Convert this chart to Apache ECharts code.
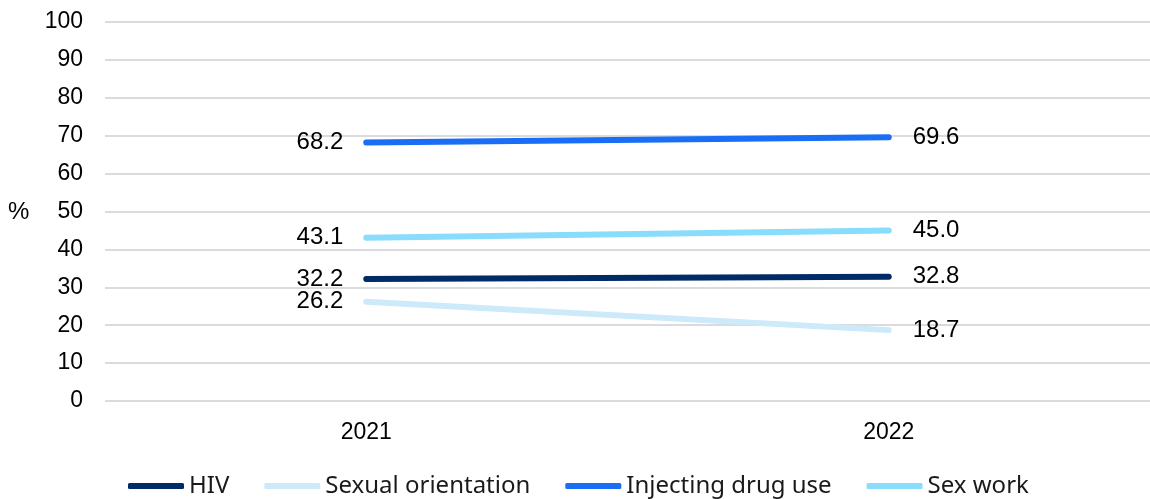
<!DOCTYPE html>
<html>
<head>
<meta charset="utf-8">
<script src="https://cdn.jsdelivr.net/npm/echarts@6/dist/echarts.min.js"></script>
<style>
  html, body { margin: 0; padding: 0; background: #fff; }
  #chart { width: 1150px; height: 499px; }
</style>
</head>
<body>
<div id="chart"></div>
<script>
// Years on the category axis
const years = ['2021', '2022'];
// Percentages per topic
const hiv = [32.2, 32.8];
const sexualOrientation = [26.2, 18.7];
const injectingDrugUse = [68.2, 69.6];
const sexWork = [43.1, 45.0];
// Y-axis ticks
const yMin = 0, yMax = 100, yStep = 10;

const seriesDefs = [
  { name: 'HIV', data: hiv, color: '#002b66' },
  { name: 'Sexual orientation', data: sexualOrientation, color: '#cdeafb' },
  { name: 'Injecting drug use', data: injectingDrugUse, color: '#1a6ef5' },
  { name: 'Sex work', data: sexWork, color: '#8adcfc' }
];

const baseFont = 'Liberation Sans, Arial, sans-serif';
const legendFont = 'Noto Sans, Open Sans, sans-serif';

const chart = echarts.init(document.getElementById('chart'), null, { renderer: 'canvas' });
chart.setOption({
  animation: false,
  backgroundColor: '#ffffff',
  grid: { left: 105, right: 0, top: 22, bottom: 98, containLabel: false },
  graphic: [{
    type: 'text', left: 8, top: 200,
    style: { text: '%', font: '24px ' + baseFont, fill: '#000' }
  }],
  legend: {
    top: 469,
    left: 123,
    itemWidth: 56,
    itemHeight: 6,
    itemGap: 35,
    icon: 'roundRect',
    textStyle: { fontFamily: legendFont, fontSize: 24, color: '#1a1a1a' },
    data: seriesDefs.map(s => s.name)
  },
  xAxis: {
    type: 'category',
    data: years,
    boundaryGap: true,
    axisLine: { show: false },
    axisTick: { show: false },
    axisLabel: { fontFamily: baseFont, fontSize: 23, color: '#000', margin: 20 }
  },
  yAxis: {
    type: 'value',
    min: yMin, max: yMax, interval: yStep,
    axisLine: { show: false },
    axisTick: { show: false },
    axisLabel: { fontFamily: baseFont, fontSize: 23, color: '#000', margin: 22 },
    splitLine: { lineStyle: { color: '#d9dbde', width: 2 } }
  },
  series: seriesDefs.map(s => ({
    name: s.name,
    type: 'line',
    data: s.data.map((v, i) => ({
      value: v,
      label: {
        show: true,
        position: i === 0 ? 'left' : 'right',
        distance: i === 0 ? 22 : 23,
        formatter: p => p.value.toFixed(1),
        fontFamily: baseFont, fontSize: 24, color: '#000'
      }
    })),
    symbol: 'circle',
    symbolSize: 2,
    showSymbol: true,
    lineStyle: { color: s.color, width: 6, cap: 'round' },
    itemStyle: { color: s.color }
  }))
});
</script>
</body>
</html>
